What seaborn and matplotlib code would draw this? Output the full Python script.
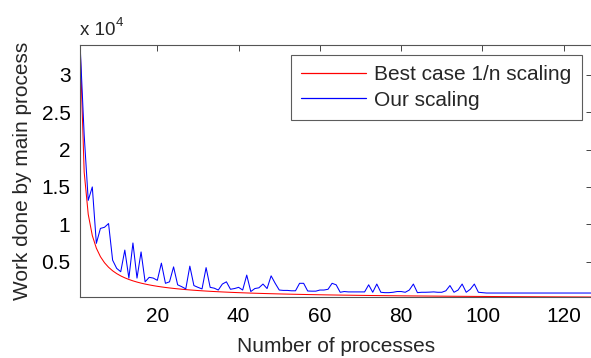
import numpy as np
import pandas as pd
import matplotlib
matplotlib.use("Agg")
import matplotlib.pyplot as plt
import seaborn as sns

# ---- data ----
n_procs = list(range(1, 128))
work_total = 34000
best_case = [work_total / n for n in n_procs]
our_head = [34000, 22000, 13200, 15000, 7450, 9450, 9600, 10100, 5200, 4100,
            3650, 6550, 2800, 7500, 2800, 6300, 2300, 2900, 2800, 2500,
            4800, 2100, 2300, 4300, 1900, 1650, 1350, 4400, 1800, 1560,
            1350, 4200, 1560, 1450, 1200, 2000, 2300, 1300, 1400, 1560,
            1200, 3200, 1000, 1400, 1500, 2000, 1400, 3100, 2100, 1200,
            1150, 1150, 1100, 1100, 2100, 2100, 1070, 1050, 1050, 1200,
            1200, 1300, 2100, 1900, 900, 1000, 950, 950, 950, 950,
            950, 1900, 900, 2000, 900, 850, 850, 900, 1000, 1000,
            900, 1200, 2000, 850, 900, 900, 920, 950, 900, 900,
            1100, 1800, 900, 1200, 2000, 900, 1300, 2000, 900, 850]
our_tail = [800] * 27
our_scaling = our_head + our_tail
labels = ["Best case 1/n scaling", "Our scaling"]
colors = ["#ff0000", "#0000ff"]
x_ticks = [20, 40, 60, 80, 100, 120]
y_ticks = [5000, 10000, 15000, 20000, 25000, 30000]
y_ticklabels = ["0.5", "1", "1.5", "2", "2.5", "3"]

df = pd.DataFrame({
    "n": n_procs * 2,
    "work": best_case + our_scaling,
    "series": [labels[0]] * len(n_procs) + [labels[1]] * len(n_procs),
})

sns.set_style("white")
plt.rcParams["font.family"] = ["Liberation Sans", "DejaVu Sans"]

W, H = 591, 358
fig = plt.figure(figsize=(W / 100, H / 100), dpi=100)
left, right, top, bottom = 80.1, 592.2, 45, 297
ax = fig.add_axes([left / W, 1 - bottom / H, (right - left) / W, (bottom - top) / H])

sns.lineplot(data=df, x="n", y="work", hue="series", hue_order=labels,
             palette=dict(zip(labels, colors)),
             linewidth=0.75, ax=ax, legend=False, estimator=None, sort=False)

ax.set_xlim(1, 127)
ax.set_ylim(work_total / 127, work_total)
ax.set_xticks(x_ticks)
ax.set_xticklabels([str(t) for t in x_ticks])
ax.set_yticks(y_ticks)
ax.set_yticklabels(y_ticklabels)

fs = 15
ax.tick_params(axis="both", which="both", direction="in", length=4, width=0.7,
               color="#444444", labelsize=fs, top=True, right=True, pad=7,
               labelcolor="black")
for s in ax.spines.values():
    s.set_color("#555555")
    s.set_linewidth(0.8)
    s.set_visible(True)

ax.set_xlabel("Number of processes", fontsize=fs, labelpad=8)
ax.set_ylabel("Work done by main process", fontsize=fs, labelpad=7)

fig.text(80 / W, 1 - 35 / H, "x 10", fontsize=13.5, ha="left", va="baseline")
fig.text(116 / W, 1 - 26 / H, "4", fontsize=9.5, ha="left", va="baseline")

from matplotlib.lines import Line2D
handles = [Line2D([], [], color=c, linewidth=0.9) for c in colors]
leg = ax.legend(handles, labels, loc="upper right",
                bbox_to_anchor=(581.7 / W, 1 - 55 / H),
                bbox_transform=fig.transFigure, fontsize=fs, frameon=True,
                fancybox=False, edgecolor="#333333", handlelength=3.1,
                handletextpad=0.4, borderpad=0.5, labelspacing=0.3,
                borderaxespad=0)
leg.get_frame().set_linewidth(0.8)

fig.savefig("out.png", dpi=100)
